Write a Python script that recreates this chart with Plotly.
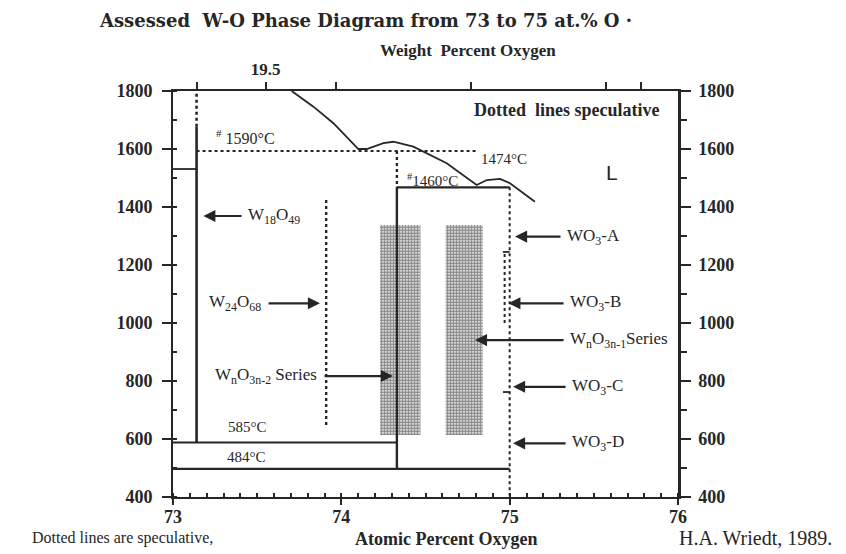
import plotly.graph_objects as go

# ---------------- data (atomic % O, temperature in °C) ----------------
liq_at = [73.705, 73.834, 73.953, 74.101, 74.151, 74.25, 74.309, 74.428, 74.626,
          74.725, 74.804, 74.864, 74.943, 75.002, 75.081, 75.15]
liq_T = [1800, 1746, 1689, 1600, 1600, 1620, 1625, 1608, 1551,
         1510, 1476, 1493, 1497, 1482, 1447, 1418]

w18_at = 73.14                 # W18O49
w18_solid_T = [588, 1677]
w18_dot_T = [1677, 1800]
w_w18_T = 1531                 # short line between 73 and W18O49
t1590 = 1593                   # dotted line "1590 °C"
t1590_at = [73.14, 74.80]
w20_at = 74.33                 # vertical near W20O58
w20_dot_T = [1593, 1470]
w20_solid_T = [1470, 497]
t1460 = 1468
t1460_at = [74.33, 75.0]
wo3_at = 75.0
wo3_dot_T = [1468, 400]
t585 = 588
t585_at = [73.0, 74.33]
t484 = 497
t484_at = [73.0, 75.0]
w24_at = 73.91                 # W24O68 (dotted)
w24_T = [648, 1430]
band_left_at = [74.23, 74.47]  # WnO3n-2 series band
band_right_at = [74.62, 74.84] # WnO3n-1 series band
band_T = [614, 1338]
wo3_mark_at = 74.97
wo3_mark_T = [1000, 1245]
wo3_tick_T = [1245, 762]

x_ticks = [73, 74, 75, 76]
y_ticks = [400, 600, 800, 1000, 1200, 1400, 1600, 1800]
wt_tick_at = [73.14, 73.55, 73.97, 74.77, 75.57, 75.78]
wt_tick_text = ["", "19.5", "", "", "", ""]

# arrows: (label, head_at, head_T, tail_at, tail_T, side of text)
arrows = [
    ("W<sub>18</sub>O<sub>49</sub>", 73.18, 1369, 73.416, 1369, "right"),
    ("W<sub>24</sub>O<sub>68</sub>", 73.873, 1068, 73.559, 1068, "left"),
    ("W<sub>n</sub>O<sub>3n-2</sub> Series", 74.307, 817, 73.891, 817, "left"),
    ("WO<sub>3</sub>-A", 75.032, 1298, 75.311, 1298, "right"),
    ("WO<sub>3</sub>-B", 74.992, 1068, 75.329, 1068, "right"),
    ("W<sub>n</sub>O<sub>3n-1</sub>Series", 74.794, 941, 75.329, 941, "right"),
    ("WO<sub>3</sub>-C", 75.020, 780, 75.341, 780, "right"),
    ("WO<sub>3</sub>-D", 75.020, 585, 75.341, 585, "right"),
]

INK = "#262626"
FONT = "Liberation Serif"

fig = go.Figure()

def line(xs, ys, dash="solid", width=2.2):
    fig.add_trace(go.Scatter(x=xs, y=ys, mode="lines", hoverinfo="skip",
                             line=dict(color=INK, width=width, dash=dash),
                             showlegend=False))

# dense dotted bands
for b in (band_left_at, band_right_at):
    fig.add_trace(go.Scatter(
        x=[b[0], b[1], b[1], b[0], b[0]],
        y=[band_T[0], band_T[0], band_T[1], band_T[1], band_T[0]],
        mode="lines", fill="toself", line=dict(width=0, color="rgba(0,0,0,0)"),
        fillcolor="rgba(255,255,255,0)",
        fillpattern=dict(shape=".", size=3, solidity=0.72, fgcolor="#151515",
                         bgcolor="rgba(255,255,255,0)"),
        hoverinfo="skip", showlegend=False))

# liquidus
line(liq_at, liq_T, width=1.8)
# W18O49
line([w18_at, w18_at], w18_solid_T, width=2.6)
line([w18_at, w18_at], w18_dot_T, dash="dot", width=2.6)
line([73.0, w18_at], [w_w18_T, w_w18_T], width=1.8)
# 1590 dotted
line(t1590_at, [t1590, t1590], dash="dot", width=2)
# W20O58-ish line
line([w20_at, w20_at], w20_dot_T, dash="dot", width=2.4)
line([w20_at, w20_at], w20_solid_T, width=2.4)
# 1460 line
line(t1460_at, [t1460, t1460], width=2.2)
# WO3 dotted
line([wo3_at, wo3_at], wo3_dot_T, dash="dot", width=2)
# horizontals
line(t585_at, [t585, t585], width=2.2)
line(t484_at, [t484, t484], width=2.2)
# W24O68
line([w24_at, w24_at], w24_T, dash="dot", width=2.4)
# WO3 small marks
line([wo3_mark_at, wo3_mark_at], wo3_mark_T, dash="dot", width=2)
for tt in wo3_tick_T:
    line([wo3_mark_at - 0.01, wo3_at], [tt, tt], width=1.8)

# invisible trace for the secondary axes
fig.add_trace(go.Scatter(x=[73, 76], y=[400, 1800], xaxis="x2", yaxis="y2",
                         mode="markers", marker=dict(opacity=0), hoverinfo="skip",
                         showlegend=False))

# arrows + labels
for lab, hx, hy, tx, ty, side in arrows:
    fig.add_annotation(x=hx, y=hy, ax=tx, ay=ty, xref="x", yref="y",
                       axref="x", ayref="y", text="", showarrow=True,
                       arrowhead=2, arrowsize=1.1, arrowwidth=2.2, arrowcolor=INK)
    fig.add_annotation(x=tx, y=ty, xref="x", yref="y", text=lab, showarrow=False,
                       xanchor="left" if side == "right" else "right",
                       xshift=3 if side == "right" else -4,
                       font=dict(family=FONT, size=17, color=INK))

def txt(x, y, s, size=12, bold=False, family=FONT):
    fig.add_annotation(x=x, y=y, xref="x", yref="y", text=s, showarrow=False,
                       xanchor="center", yanchor="middle",
                       font=dict(family=family, size=size, color=INK,
                                 weight="bold" if bold else "normal"))

txt(73.428, 1641, "<sup>#</sup> 1590°C", size=16)
txt(74.967, 1567, "1474°C", size=15)
txt(74.539, 1493, "<sup>#</sup>1460°C", size=15)
txt(75.608, 1519, "L", size=21, family="Liberation Sans")
txt(75.335, 1734, "Dotted  lines speculative", size=18, bold=True)
txt(73.443, 641, "585°C", size=15)
txt(73.434, 538, "484°C", size=15)

# outside texts placed by pixel position
W, H = 846, 554
ml, mr, mt, mb = 173, 168, 91, 57
pw, ph = W - ml - mr, H - mt - mb
def ptxt(px, py, s, size, xanchor="center", bold=True, family=FONT):
    fig.add_annotation(x=(px - ml) / pw, y=(H - mb - py) / ph, xref="paper",
                       yref="paper", text=s, showarrow=False, xanchor=xanchor,
                       yanchor="middle",
                       font=dict(family=family, size=size, color=INK,
                                 weight="bold" if bold else "normal"))

ptxt(97, 20, "Assessed  W-O Phase Diagram from 73 to 75 at.% O ·", 18, "left",
     family="DejaVu Serif")
ptxt(378, 50, "Weight  Percent Oxygen", 17, "left")
ptxt(353, 539, "Atomic Percent Oxygen", 18, "left")
ptxt(215, 538, "Dotted lines are speculative,", 16, "right", bold=False)
ptxt(677, 538, "H.A. Wriedt, 1989.", 20, "left", bold=False)

tickfont = dict(family=FONT, size=18, color=INK, weight="bold")
fig.update_layout(
    width=W, height=H, margin=dict(l=ml, r=mr, t=mt, b=mb),
    paper_bgcolor="white", plot_bgcolor="white", showlegend=False,
    xaxis=dict(range=[73, 76], tickvals=x_ticks, ticks="outside", ticklen=6,
               tickwidth=2, tickcolor=INK, showline=True, linewidth=2,
               linecolor=INK, showgrid=False, zeroline=False, tickfont=tickfont,
               ticklabelstandoff=-4,
               minor=dict(dtick=0.1, tick0=73, ticks="inside", ticklen=4,
                          tickwidth=2, tickcolor=INK, showgrid=False)),
    yaxis=dict(range=[400, 1800], tickvals=y_ticks, ticks="outside", ticklen=9,
               tickwidth=2, tickcolor=INK, showline=True, linewidth=2,
               linecolor=INK, showgrid=False, zeroline=False, tickfont=tickfont,
               ticklabelstandoff=6,
               minor=dict(dtick=100, tick0=400, ticks="inside", ticklen=4,
                          tickwidth=2, tickcolor=INK, showgrid=False)),
    xaxis2=dict(range=[73, 76], overlaying="x", side="top", anchor="y2",
                tickvals=wt_tick_at, ticktext=wt_tick_text, ticks="outside",
                ticklen=7, tickwidth=2, tickcolor=INK, showline=True, linewidth=2,
                linecolor=INK, showgrid=False, zeroline=False,
                tickfont=dict(family=FONT, size=17, color=INK, weight="bold")),
    yaxis2=dict(range=[400, 1800], overlaying="y", side="right", anchor="x2",
                tickvals=y_ticks, ticks="outside", ticklen=10, tickwidth=2,
                tickcolor=INK, showline=True, linewidth=2.5, linecolor=INK,
                showgrid=False, zeroline=False, tickfont=tickfont,
                ticklabelstandoff=4,
                minor=dict(dtick=100, tick0=400, ticks="outside", ticklen=6,
                           tickwidth=2, tickcolor=INK, showgrid=False)),
)

fig.write_html("out.html")
